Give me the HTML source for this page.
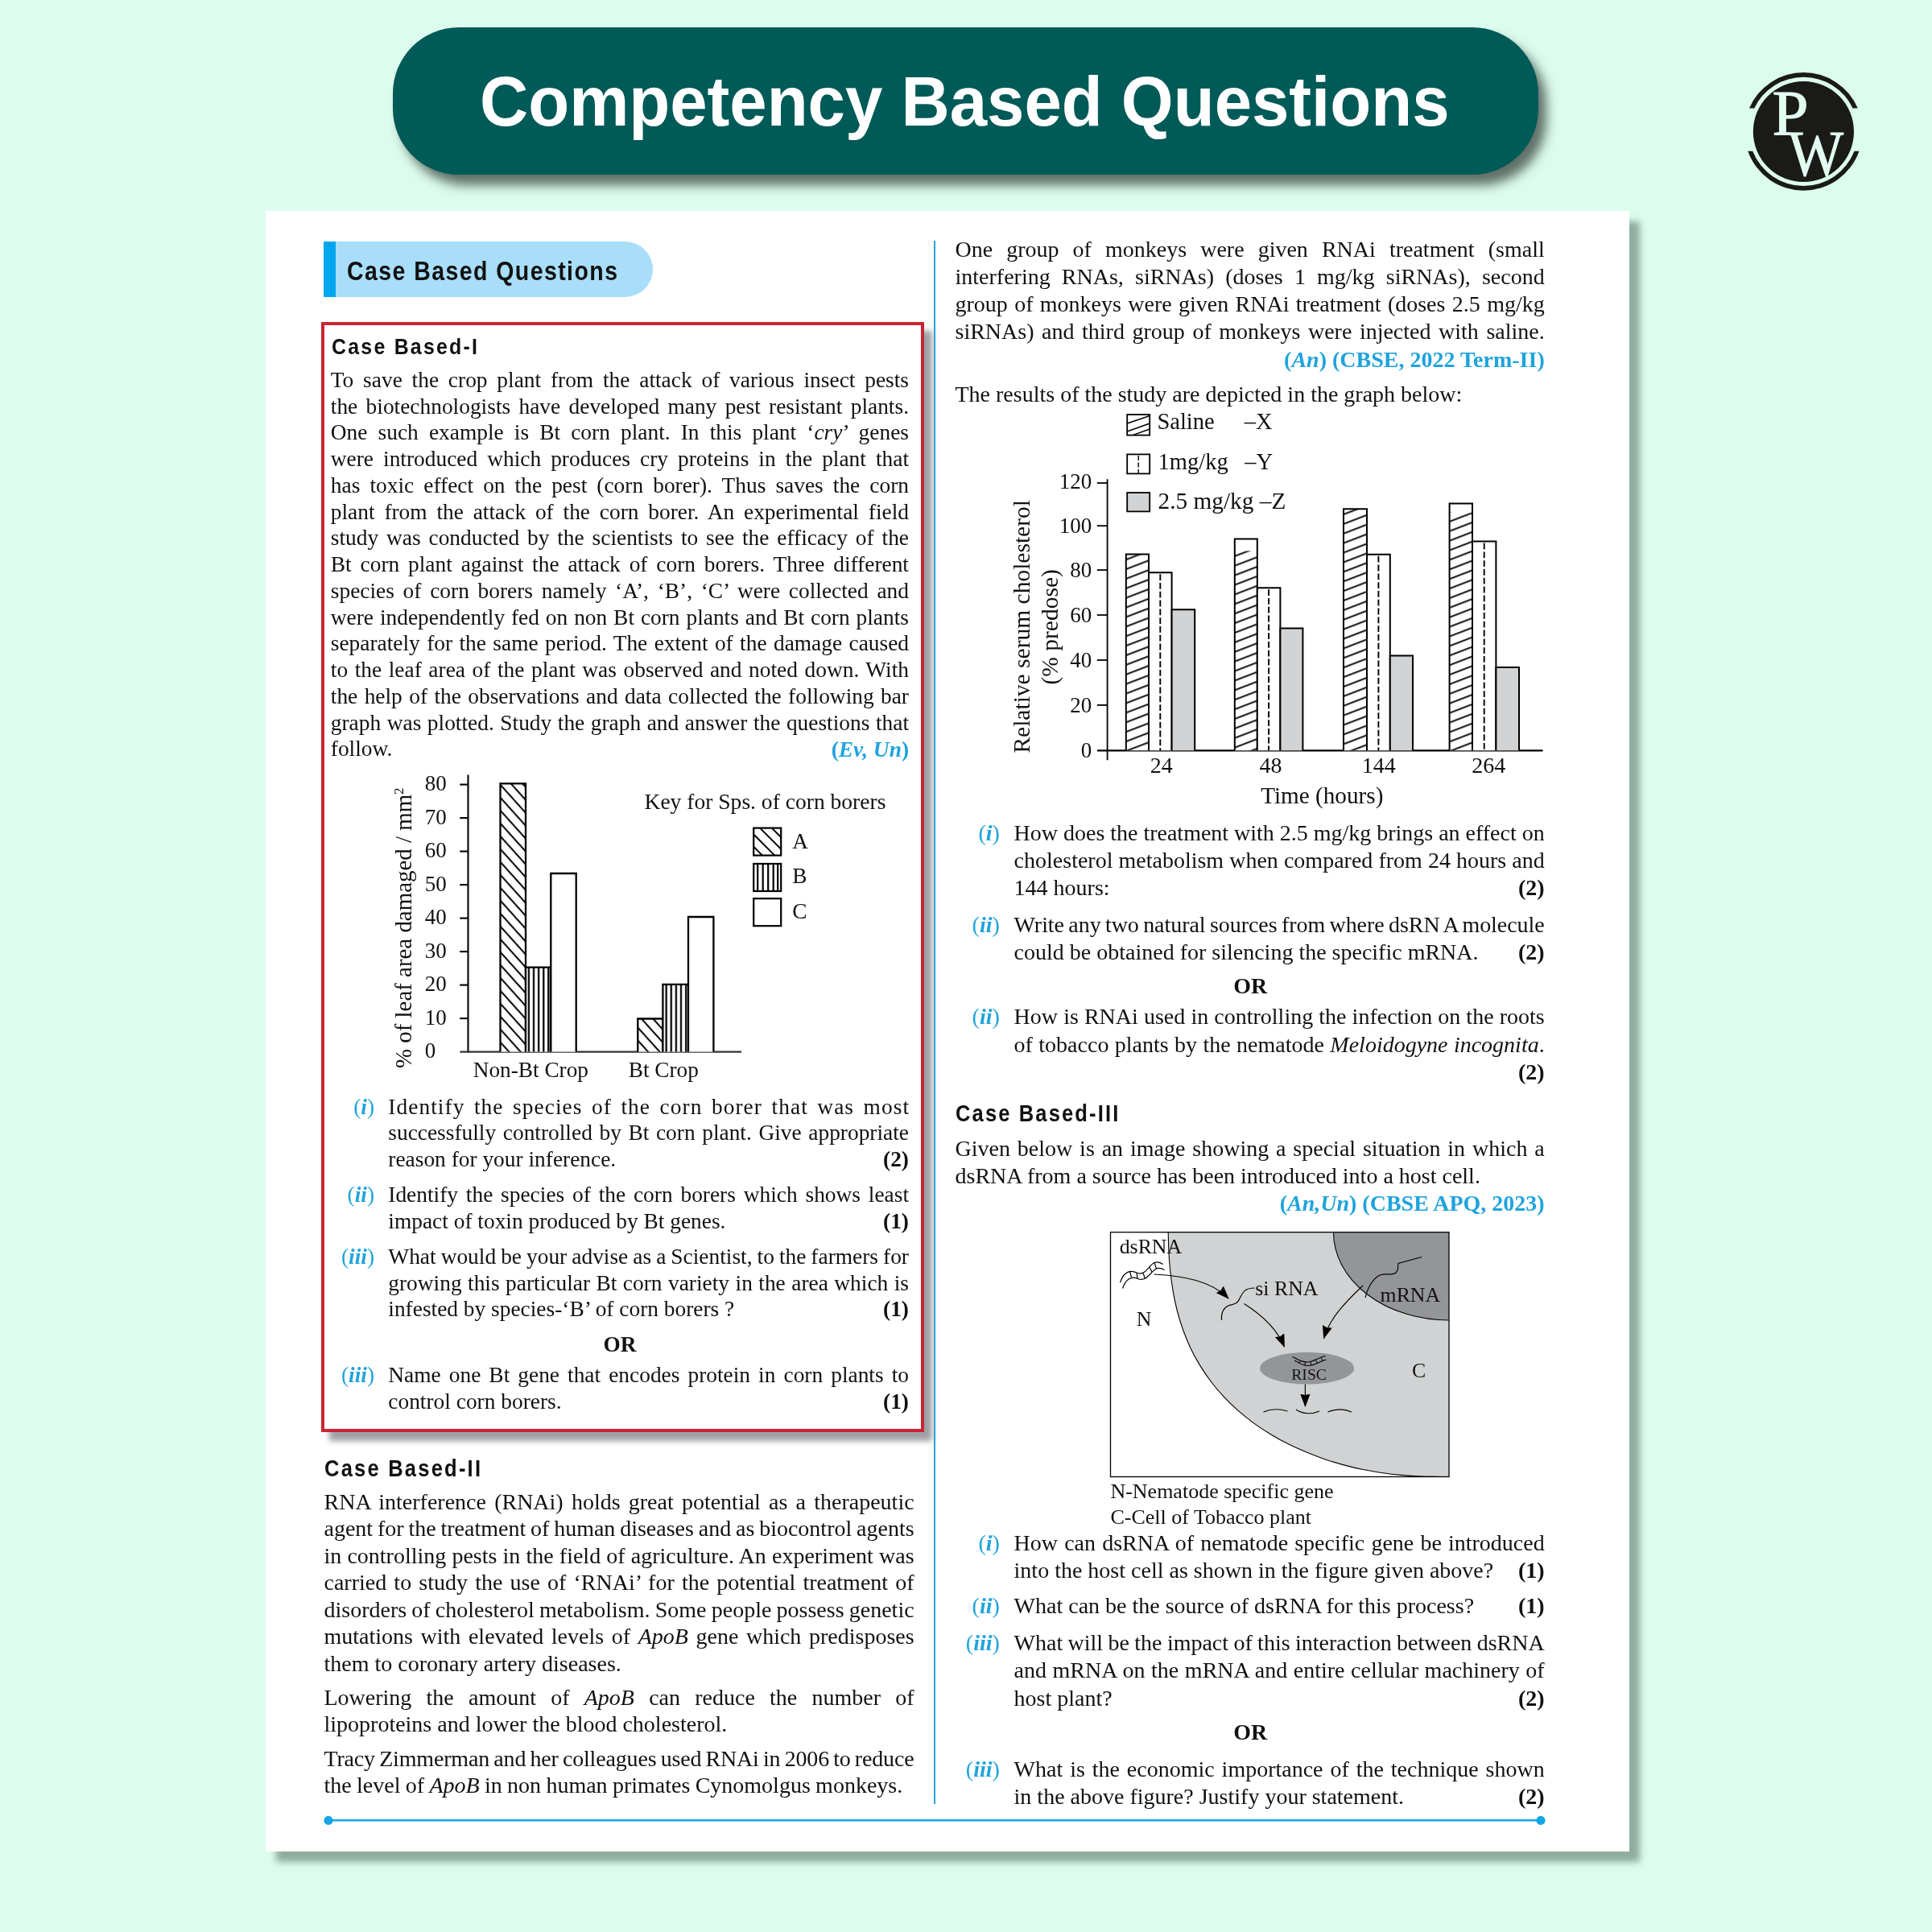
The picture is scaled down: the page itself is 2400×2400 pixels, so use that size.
<!DOCTYPE html>
<html><head><meta charset="utf-8"><title>Competency Based Questions</title>
<style>
html,body{margin:0;padding:0}
body{width:2400px;height:2400px;position:relative;overflow:hidden;background:#dcfcee;font-family:'Liberation Serif', serif;color:#111}
.t{position:absolute;white-space:nowrap;font-kerning:normal}
i{font-style:italic}
svg{position:absolute;left:0;top:0}
.bx{position:absolute}
</style></head><body>

<div class="bx" style="left:488px;top:34px;width:1423px;height:183px;border-radius:82px;background:#005a57;box-shadow:10px 13px 14px rgba(35,45,40,.68)"></div>
<div class="bx" style="left:330px;top:262px;width:1694px;height:2038px;background:#fff;box-shadow:13px 13px 8px rgba(95,125,110,.62)"></div>
<div class="bx" style="left:417px;top:299.8px;width:394px;height:69px;background:#a9defa;border-radius:0 34.5px 34.5px 0"></div>
<div class="bx" style="left:402.3px;top:299.8px;width:14.8px;height:69px;background:#00a7ee"></div>
<div class="bx" style="left:398.5px;top:399.5px;width:741.5px;height:1371px;border:4.2px solid #ca2533;background:#fff;box-shadow:10px 11px 7px rgba(105,107,114,.64)"></div>

<svg style="will-change:transform" width="2400" height="2400" viewBox="0 0 2400 2400"><defs>
<pattern id="hA" patternUnits="userSpaceOnUse" width="10.7" height="10.7" patternTransform="rotate(48) translate(0 3.5)"><line x1="-1" y1="5" x2="12" y2="5" stroke="#000" stroke-width="2"/></pattern>
<pattern id="hB" patternUnits="userSpaceOnUse" width="6.1" height="6.1" patternTransform="translate(1.2 0)"><line x1="3" y1="-1" x2="3" y2="8" stroke="#000" stroke-width="2.3"/></pattern>
<pattern id="hX" patternUnits="userSpaceOnUse" width="11.1" height="11.1" patternTransform="rotate(-21) translate(0 2)"><line x1="-1" y1="5" x2="13" y2="5" stroke="#000" stroke-width="1.9"/></pattern>
<marker id="ar" viewBox="0 0 16 12" refX="15" refY="6" markerWidth="16.5" markerHeight="12.4" markerUnits="userSpaceOnUse" orient="auto"><path d="M0,0 L16,6 L0,12 L1.5,6 z" fill="#000"/></marker>
<clipPath id="dg"><rect x="1379.5" y="1530.7" width="420.5" height="303.8"/></clipPath>
</defs>
<line x1="1161" y1="299" x2="1161" y2="2241" stroke="#27a3db" stroke-width="2"/>
<line x1="408" y1="2261.3" x2="1914" y2="2261.3" stroke="#14a6e6" stroke-width="2.4"/>
<circle cx="408" cy="2261.4" r="5.6" fill="#14a6e6"/><circle cx="1914" cy="2261.4" r="5.6" fill="#14a6e6"/>
<g>
<circle cx="2240.4" cy="163.5" r="62.6" fill="#1a1a18"/>
<path d="M 2173.0 134.5 A 73.3 73.3 0 0 1 2307.8 134.5 L 2301.6 134.5 A 67.7 67.7 0 0 0 2179.2 134.5 Z" fill="#1a1a18"/>
<path d="M 2171.3 187.8 A 73.3 73.3 0 0 0 2309.5 187.8 L 2303.5 187.8 A 67.7 67.7 0 0 1 2177.3 187.8 Z" fill="#1a1a18"/>
<text x="2201.5" y="167.7" font-size="81" fill="#e2fcf1" stroke="#e2fcf1" stroke-width="1" font-family="Liberation Serif">P</text>
<text transform="translate(2221.0 218.0) scale(0.915 1)" font-size="80" fill="#e2fcf1" stroke="#e2fcf1" stroke-width="0.9" font-family="Liberation Serif">W</text>
</g>
<g font-family="Liberation Serif" fill="#111"><line x1="581.5" y1="962.4" x2="581.5" y2="1307.6" stroke="#000" stroke-width="2.1"/>
<line x1="571.5" y1="1306.6" x2="921" y2="1306.6" stroke="#333" stroke-width="2.1"/>
<line x1="571.2" y1="1265.1" x2="581.5" y2="1265.1" stroke="#000" stroke-width="2.1"/>
<line x1="571.2" y1="1223.6" x2="581.5" y2="1223.6" stroke="#000" stroke-width="2.1"/>
<line x1="571.2" y1="1182.1" x2="581.5" y2="1182.1" stroke="#000" stroke-width="2.1"/>
<line x1="571.2" y1="1140.6" x2="581.5" y2="1140.6" stroke="#000" stroke-width="2.1"/>
<line x1="571.2" y1="1099.1" x2="581.5" y2="1099.1" stroke="#000" stroke-width="2.1"/>
<line x1="571.2" y1="1057.6" x2="581.5" y2="1057.6" stroke="#000" stroke-width="2.1"/>
<line x1="571.2" y1="1016.1" x2="581.5" y2="1016.1" stroke="#000" stroke-width="2.1"/>
<line x1="571.2" y1="974.6" x2="581.5" y2="974.6" stroke="#000" stroke-width="2.1"/>
<text x="527.8" y="1314.0" font-size="27" text-anchor="start" >0</text>
<text x="527.8" y="1272.5" font-size="27" text-anchor="start" >10</text>
<text x="527.8" y="1231.0" font-size="27" text-anchor="start" >20</text>
<text x="527.8" y="1189.5" font-size="27" text-anchor="start" >30</text>
<text x="527.8" y="1148.0" font-size="27" text-anchor="start" >40</text>
<text x="527.8" y="1106.5" font-size="27" text-anchor="start" >50</text>
<text x="527.8" y="1065.0" font-size="27" text-anchor="start" >60</text>
<text x="527.8" y="1023.5" font-size="27" text-anchor="start" >70</text>
<text x="527.8" y="982.0" font-size="27" text-anchor="start" >80</text>
<rect x="621.5" y="973.4" width="31.5" height="333.2" fill="#fff"/>
<rect x="621.5" y="973.4" width="31.5" height="333.2" fill="url(#hA)"/>
<path d="M621.5 1306.6 V973.4 H653.0 V1306.6" fill="none" stroke="#000" stroke-width="2.3"/>
<rect x="653.0" y="1201.7" width="31.3" height="104.9" fill="#fff"/>
<rect x="653.0" y="1201.7" width="31.3" height="104.9" fill="url(#hB)"/>
<path d="M653.0 1306.6 V1201.7 H684.3 V1306.6" fill="none" stroke="#000" stroke-width="2.3"/>
<rect x="684.3" y="1085.0" width="31.4" height="221.6" fill="#fff"/>
<path d="M684.3 1306.6 V1085.0 H715.7 V1306.6" fill="none" stroke="#000" stroke-width="2.3"/>
<rect x="792.3" y="1265.5" width="31.1" height="41.1" fill="#fff"/>
<rect x="792.3" y="1265.5" width="31.1" height="41.1" fill="url(#hA)"/>
<path d="M792.3 1306.6 V1265.5 H823.4 V1306.6" fill="none" stroke="#000" stroke-width="2.3"/>
<rect x="823.4" y="1222.8" width="31.6" height="83.8" fill="#fff"/>
<rect x="823.4" y="1222.8" width="31.6" height="83.8" fill="url(#hB)"/>
<path d="M823.4 1306.6 V1222.8 H855.0 V1306.6" fill="none" stroke="#000" stroke-width="2.3"/>
<rect x="855.0" y="1139.0" width="31.4" height="167.6" fill="#fff"/>
<path d="M855.0 1306.6 V1139.0 H886.4 V1306.6" fill="none" stroke="#000" stroke-width="2.3"/>
<text x="587.7" y="1337.7" font-size="27.3" text-anchor="start" >Non-Bt Crop</text>
<text x="780.7" y="1337.7" font-size="27.3" text-anchor="start" >Bt Crop</text>
<text x="800.5" y="1004.8" font-size="27.55" text-anchor="start" >Key for Sps. of corn borers</text>
<rect x="936.2" y="1028.6" width="34.0" height="34.0" fill="#fff"/>
<path d="M958.8000000000001 1028.6 L970.2 1040.0 M944.1 1028.6 L970.2 1054.6999999999998 M936.2 1036.5 L962.3000000000001 1062.6 M936.2 1051.8 L947.0 1062.6" stroke="#000" stroke-width="2" fill="none"/>
<rect x="936.2" y="1028.6" width="34.0" height="34.0" fill="none" stroke="#000" stroke-width="2.2"/>
<text x="984.2" y="1054.3" font-size="27.3" text-anchor="start" >A</text>
<rect x="936.2" y="1073.0" width="34.0" height="34.0" fill="#fff"/>
<line x1="941.2" y1="1073.0" x2="941.2" y2="1107.0" stroke="#000" stroke-width="2.2"/>
<line x1="947.7" y1="1073.0" x2="947.7" y2="1107.0" stroke="#000" stroke-width="2.2"/>
<line x1="954.2" y1="1073.0" x2="954.2" y2="1107.0" stroke="#000" stroke-width="2.2"/>
<line x1="960.7" y1="1073.0" x2="960.7" y2="1107.0" stroke="#000" stroke-width="2.2"/>
<line x1="966.2" y1="1073.0" x2="966.2" y2="1107.0" stroke="#000" stroke-width="2.2"/>
<rect x="936.2" y="1073.0" width="34.0" height="34.0" fill="none" stroke="#000" stroke-width="2.2"/>
<text x="984.2" y="1096.8" font-size="27.3" text-anchor="start" >B</text>
<rect x="936.2" y="1116.2" width="34.0" height="34.0" fill="#fff"/>
<rect x="936.2" y="1116.2" width="34.0" height="34.0" fill="none" stroke="#000" stroke-width="2.2"/>
<text x="984.2" y="1140.8" font-size="27.3" text-anchor="start" >C</text>
<text transform="translate(511.4 1327.0) rotate(-90)" font-size="28.9">% of leaf area damaged / mm<tspan font-size="17" dy="-10">2</tspan></text></g>
<g font-family="Liberation Serif" fill="#111"><line x1="1375.6" y1="595.2" x2="1375.6" y2="944.3" stroke="#000" stroke-width="1.8"/>
<line x1="1363" y1="932.3" x2="1916.5" y2="932.3" stroke="#000" stroke-width="2.2"/>
<text x="1356.3" y="941.4" font-size="27" text-anchor="end" >0</text>
<line x1="1362.8" y1="875.9" x2="1375.6" y2="875.9" stroke="#000" stroke-width="1.8"/>
<text x="1356.3" y="885.0" font-size="27" text-anchor="end" >20</text>
<line x1="1362.8" y1="820.0" x2="1375.6" y2="820.0" stroke="#000" stroke-width="1.8"/>
<text x="1356.3" y="829.1" font-size="27" text-anchor="end" >40</text>
<line x1="1362.8" y1="764.0" x2="1375.6" y2="764.0" stroke="#000" stroke-width="1.8"/>
<text x="1356.3" y="773.1" font-size="27" text-anchor="end" >60</text>
<line x1="1362.8" y1="708.1" x2="1375.6" y2="708.1" stroke="#000" stroke-width="1.8"/>
<text x="1356.3" y="717.2" font-size="27" text-anchor="end" >80</text>
<line x1="1362.8" y1="653.2" x2="1375.6" y2="653.2" stroke="#000" stroke-width="1.8"/>
<text x="1356.3" y="662.3" font-size="27" text-anchor="end" >100</text>
<line x1="1362.8" y1="600.0" x2="1375.6" y2="600.0" stroke="#000" stroke-width="1.8"/>
<text x="1356.3" y="606.6" font-size="27" text-anchor="end" >120</text>
<rect x="1398.8" y="688.6" width="28.2" height="243.7" fill="#fff"/><rect x="1398.8" y="688.6" width="28.2" height="243.7" fill="url(#hX)"/>
<path d="M1398.8 932.3 V688.6 H1427.0 V932.3" fill="none" stroke="#000" stroke-width="2"/>
<rect x="1427.0" y="711.2" width="28.6" height="221.1" fill="#fff"/>
<line x1="1441.3" y1="713.2" x2="1441.3" y2="932.3" stroke="#000" stroke-width="1.9" stroke-dasharray="7.8 3"/>
<path d="M1427.0 932.3 V711.2 H1455.6 V932.3" fill="none" stroke="#000" stroke-width="2"/>
<rect x="1455.6" y="757.2" width="28.6" height="175.1" fill="#d1d3d4"/>
<path d="M1455.6 932.3 V757.2 H1484.2 V932.3" fill="none" stroke="#000" stroke-width="2"/>
<rect x="1533.8" y="669.4" width="28.0" height="262.9" fill="#fff"/><rect x="1533.8" y="684.4" width="28.0" height="247.9" fill="url(#hX)"/>
<path d="M1533.8 932.3 V669.4 H1561.8 V932.3" fill="none" stroke="#000" stroke-width="2"/>
<rect x="1561.8" y="730.2" width="28.6" height="202.1" fill="#fff"/>
<line x1="1576.1" y1="732.2" x2="1576.1" y2="932.3" stroke="#000" stroke-width="1.9" stroke-dasharray="7.8 3"/>
<path d="M1561.8 932.3 V730.2 H1590.4 V932.3" fill="none" stroke="#000" stroke-width="2"/>
<rect x="1590.4" y="780.4" width="28.0" height="151.9" fill="#d1d3d4"/>
<path d="M1590.4 932.3 V780.4 H1618.4 V932.3" fill="none" stroke="#000" stroke-width="2"/>
<rect x="1669.0" y="632.2" width="29.0" height="300.1" fill="#fff"/><rect x="1669.0" y="632.2" width="29.0" height="300.1" fill="url(#hX)"/>
<path d="M1669.0 932.3 V632.2 H1698.0 V932.3" fill="none" stroke="#000" stroke-width="2"/>
<rect x="1698.0" y="688.8" width="28.8" height="243.5" fill="#fff"/>
<line x1="1712.4" y1="690.8" x2="1712.4" y2="932.3" stroke="#000" stroke-width="1.9" stroke-dasharray="7.8 3"/>
<path d="M1698.0 932.3 V688.8 H1726.8 V932.3" fill="none" stroke="#000" stroke-width="2"/>
<rect x="1726.8" y="814.4" width="28.2" height="117.9" fill="#d1d3d4"/>
<path d="M1726.8 932.3 V814.4 H1755.0 V932.3" fill="none" stroke="#000" stroke-width="2"/>
<rect x="1800.6" y="625.6" width="28.4" height="306.7" fill="#fff"/><rect x="1800.6" y="636.6" width="28.4" height="295.7" fill="url(#hX)"/>
<path d="M1800.6 932.3 V625.6 H1829.0 V932.3" fill="none" stroke="#000" stroke-width="2"/>
<rect x="1829.0" y="672.6" width="29.4" height="259.7" fill="#fff"/>
<line x1="1843.7" y1="674.6" x2="1843.7" y2="932.3" stroke="#000" stroke-width="1.9" stroke-dasharray="7.8 3"/>
<path d="M1829.0 932.3 V672.6 H1858.4 V932.3" fill="none" stroke="#000" stroke-width="2"/>
<rect x="1858.4" y="829.0" width="28.6" height="103.3" fill="#d1d3d4"/>
<path d="M1858.4 932.3 V829.0 H1887.0 V932.3" fill="none" stroke="#000" stroke-width="2"/>
<text x="1442.7" y="960.4" font-size="28" text-anchor="middle" >24</text>
<text x="1578.4" y="960.4" font-size="28" text-anchor="middle" >48</text>
<text x="1712.8" y="960.4" font-size="28" text-anchor="middle" >144</text>
<text x="1849.2" y="960.4" font-size="28" text-anchor="middle" >264</text>
<text x="1566.2" y="998.1" font-size="29.2" text-anchor="start" >Time (hours)</text>
<rect x="1400.2" y="515" width="28" height="25.6" fill="#fff"/><path d="M1400.2 526 L1428.2 516.5 M1400.2 536 L1428.2 526 M1407 540.6 L1428.2 533" stroke="#000" stroke-width="1.5" fill="none"/><rect x="1400.2" y="515" width="28" height="25.6" fill="none" stroke="#000" stroke-width="1.8"/>
<rect x="1400.2" y="564.4" width="28" height="24" fill="#fff" stroke="#000" stroke-width="1.8"/><line x1="1414.2" y1="566" x2="1414.2" y2="588" stroke="#000" stroke-width="1.4" stroke-dasharray="6 2.5"/>
<rect x="1400.2" y="612" width="28" height="23.4" fill="#d1d3d4" stroke="#000" stroke-width="1.8"/>
<text x="1437.4" y="533.3" font-size="28.5" text-anchor="start" >Saline</text>
<text x="1545.8" y="533.3" font-size="28.5" text-anchor="start" >–X</text>
<text x="1438.6" y="582.8" font-size="28.5" text-anchor="start" >1mg/kg</text>
<text x="1546.2" y="582.8" font-size="28.5" text-anchor="start" >–Y</text>
<text x="1438.6" y="631.5" font-size="29.3" text-anchor="start" >2.5 mg/kg –Z</text>
<text transform="translate(1279.3 935.6) rotate(-90)" font-size="29.5">Relative serum cholesterol</text>
<text transform="translate(1314.3 850.5) rotate(-90)" font-size="29.5">(% predose)</text></g>
<g font-family="Liberation Serif" fill="#111"><rect x="1379.5" y="1530.7" width="420.5" height="303.79999999999995" fill="#fff"/>
<g clip-path="url(#dg)"><path d="M1451.2 1530.7 C1451.4 1538.8 1451.5 1546.9 1451.9 1555.0 C1452.3 1563.1 1452.9 1571.3 1453.8 1579.5 C1454.7 1587.7 1455.8 1596.0 1457.2 1604.2 C1458.6 1612.4 1460.3 1620.5 1462.4 1628.5 C1464.5 1636.5 1466.9 1644.5 1469.7 1652.2 C1472.5 1659.9 1475.6 1667.5 1479.1 1674.9 C1482.6 1682.3 1486.6 1689.5 1490.8 1696.4 C1495.0 1703.3 1499.6 1710.0 1504.5 1716.5 C1509.4 1723.0 1514.7 1729.2 1520.3 1735.2 C1525.9 1741.2 1531.8 1746.8 1537.9 1752.2 C1544.0 1757.6 1550.5 1762.8 1557.1 1767.6 C1563.7 1772.4 1570.6 1776.9 1577.6 1781.2 C1584.6 1785.5 1591.9 1789.6 1599.3 1793.3 C1606.7 1797.0 1614.2 1800.4 1621.8 1803.6 C1629.4 1806.8 1637.1 1809.7 1644.9 1812.4 C1652.7 1815.1 1660.5 1817.4 1668.4 1819.6 C1676.3 1821.8 1684.3 1823.6 1692.3 1825.3 C1700.3 1827.0 1708.2 1828.3 1716.3 1829.5 C1724.3 1830.7 1732.4 1831.7 1740.6 1832.4 C1748.8 1833.2 1756.9 1833.7 1765.2 1834.0 C1773.5 1834.3 1781.9 1834.3 1790.2 1834.5 L1805.0 1839.5 L1805.0 1525.7 L1451.2 1525.7 Z" fill="#d0d2d3" stroke="#000" stroke-width="1.1"/><ellipse cx="1800.0" cy="1530.7" rx="143.5" ry="109.3" fill="#939598" stroke="#000" stroke-width="1.1"/></g>
<rect x="1379.5" y="1530.7" width="420.5" height="303.79999999999995" fill="none" stroke="#000" stroke-width="1.3"/>
<ellipse cx="1623.6" cy="1699.7" rx="58.5" ry="19.9" fill="#939598"/>
<g fill="none" stroke="#000" stroke-width="1.2"><path d="M1391.5 1593 C1396 1580 1404 1577 1412 1581 C1422 1586 1427 1572 1434 1568.5 C1438 1567 1441.5 1568 1444.5 1570.5"/><path d="M1394.5 1600.5 C1399 1588 1406 1585 1413.5 1588.5 C1424 1593 1429.5 1579.5 1436.5 1576 C1440 1574.8 1443 1575.5 1446.5 1577.5"/><path d="M1403.5 1579.5 L1405.5 1586.5 M1412 1581 L1413 1588.5 M1420 1581.5 L1422.5 1588.5 M1427.5 1573.5 L1431 1580 M1434 1568.5 L1436.5 1576"/></g>
<g fill="none" stroke="#000" stroke-width="1.15"><path d="M1433.5 1583 C1470 1585 1505 1591 1526 1613" marker-end="url(#ar)"/><path d="M1545.5 1619.6 C1565 1632 1586 1650 1595.5 1673" marker-end="url(#ar)"/><path d="M1693 1597 C1672 1617 1652 1637 1644.5 1662.5" marker-end="url(#ar)"/><path d="M1621.4 1719.5 L1621.4 1747" marker-end="url(#ar)"/><path d="M1558.5 1600 C1545 1600 1543 1607 1540 1613 C1537 1621 1531 1620 1526 1622 C1519 1625 1517 1632 1517.5 1640"/><path d="M1766 1561.5 L1737 1569.5 C1736 1574 1738 1577 1734 1581 C1729 1585 1722 1581 1714 1584 C1705 1589 1699 1600 1696 1612"/><path d="M1569.5 1754 C1579 1750 1590 1750 1599.5 1753"/><path d="M1610 1751 C1619 1757 1630 1757 1639 1753"/><path d="M1649.5 1754 C1659 1750 1670 1750 1679 1754"/><path d="M1605.5 1685.5 C1612 1688 1616 1692 1624 1692 C1632 1692 1638 1686 1646.5 1684.5" stroke-width="1.1"/><path d="M1608 1690 C1613 1692 1617 1696.5 1625 1696.5 C1633 1696.5 1639 1691 1647.5 1689" stroke-width="1.1"/><path d="M1615.5 1690.5 L1613.5 1694 M1621.5 1692 L1621 1696.3 M1628 1691.8 L1629 1696.2 M1634.5 1689.5 L1636.5 1693.5 M1641 1686.5 L1643 1690.5" stroke-width="1"/></g>
<text x="1390.7" y="1557.4" font-size="25.8" text-anchor="start" >dsRNA</text>
<text x="1411.8" y="1647.2" font-size="25.8" text-anchor="start" >N</text>
<text x="1559.3" y="1608.7" font-size="25.8" text-anchor="start" >si RNA</text>
<text x="1714.6" y="1616.5" font-size="25.8" text-anchor="start" >mRNA</text>
<text x="1754.0" y="1710.6" font-size="25.8" text-anchor="start" >C</text>
<text x="1604.3" y="1713.7" font-size="19.6" text-anchor="start" >RISC</text></g></svg>
<div style="position:absolute;left:0;top:0;width:2400px;height:2400px;will-change:transform">
<div class="t" style="font-family:'Liberation Serif', serif;font-size:27.4px;top:459px;line-height:27.4px;word-spacing:4.961px;left:410.80px;">To save the crop plant from the attack of various insect pests</div>
<div class="t" style="font-family:'Liberation Serif', serif;font-size:27.4px;top:492px;line-height:27.4px;word-spacing:3.493px;left:410.80px;">the biotechnologists have developed many pest resistant plants.</div>
<div class="t" style="font-family:'Liberation Serif', serif;font-size:27.4px;top:524px;line-height:27.4px;word-spacing:6.281px;left:410.80px;">One such example is Bt corn plant. In this plant ‘<i>cry</i>’ genes</div>
<div class="t" style="font-family:'Liberation Serif', serif;font-size:27.4px;top:557px;line-height:27.4px;word-spacing:5.175px;left:410.80px;">were introduced which produces cry proteins in the plant that</div>
<div class="t" style="font-family:'Liberation Serif', serif;font-size:27.4px;top:590px;line-height:27.4px;word-spacing:5.226px;left:410.80px;">has toxic effect on the pest (corn borer). Thus saves the corn</div>
<div class="t" style="font-family:'Liberation Serif', serif;font-size:27.4px;top:623px;line-height:27.4px;word-spacing:4.965px;left:410.80px;">plant from the attack of the corn borer. An experimental field</div>
<div class="t" style="font-family:'Liberation Serif', serif;font-size:27.4px;top:655px;line-height:27.4px;word-spacing:3.034px;left:410.80px;">study was conducted by the scientists to see the efficacy of the</div>
<div class="t" style="font-family:'Liberation Serif', serif;font-size:27.4px;top:688px;line-height:27.4px;word-spacing:4.001px;left:410.80px;">Bt corn plant against the attack of corn borers. Three different</div>
<div class="t" style="font-family:'Liberation Serif', serif;font-size:27.4px;top:721px;line-height:27.4px;word-spacing:3.878px;left:410.80px;">species of corn borers namely ‘A’, ‘B’, ‘C’ were collected and</div>
<div class="t" style="font-family:'Liberation Serif', serif;font-size:27.4px;top:754px;line-height:27.4px;word-spacing:1.048px;left:410.80px;">were independently fed on non Bt corn plants and Bt corn plants</div>
<div class="t" style="font-family:'Liberation Serif', serif;font-size:27.4px;top:786px;line-height:27.4px;word-spacing:1.522px;left:410.80px;">separately for the same period. The extent of the damage caused</div>
<div class="t" style="font-family:'Liberation Serif', serif;font-size:27.4px;top:819px;line-height:27.4px;word-spacing:1.734px;left:410.80px;">to the leaf area of the plant was observed and noted down. With</div>
<div class="t" style="font-family:'Liberation Serif', serif;font-size:27.4px;top:852px;line-height:27.4px;word-spacing:1.540px;left:410.80px;">the help of the observations and data collected the following bar</div>
<div class="t" style="font-family:'Liberation Serif', serif;font-size:27.4px;top:885px;line-height:27.4px;word-spacing:0.695px;left:410.80px;">graph was plotted. Study the graph and answer the questions that</div>
<div class="t" style="font-family:'Liberation Serif', serif;font-size:27.4px;top:917px;line-height:27.4px;left:410.80px;">follow.</div>
<div class="t" style="font-family:'Liberation Serif', serif;font-size:27.4px;font-weight:bold;top:918px;line-height:27.4px;color:#1fa3dc;right:1271.00px;">(<i>Ev, Un</i>)</div>
<div class="t" style="font-family:'Liberation Serif', serif;font-size:27.4px;top:1362px;line-height:27.4px;color:#1fa3dc;right:1935.00px;">(<b><i>i</i></b>)</div>
<div class="t" style="font-family:'Liberation Serif', serif;font-size:27.4px;top:1362px;line-height:27.4px;letter-spacing:1.050px;word-spacing:3.619px;left:482.30px;">Identify the species of the corn borer that was most</div>
<div class="t" style="font-family:'Liberation Serif', serif;font-size:27.4px;top:1394px;line-height:27.4px;word-spacing:1.761px;left:482.30px;">successfully controlled by Bt corn plant. Give appropriate</div>
<div class="t" style="font-family:'Liberation Serif', serif;font-size:27.4px;top:1427px;line-height:27.4px;left:482.30px;">reason for your inference.</div>
<div class="t" style="font-family:'Liberation Serif', serif;font-size:27.4px;font-weight:bold;top:1427px;line-height:27.4px;right:1271.00px;">(2)</div>
<div class="t" style="font-family:'Liberation Serif', serif;font-size:27.4px;top:1471px;line-height:27.4px;color:#1fa3dc;right:1935.00px;">(<b><i>ii</i></b>)</div>
<div class="t" style="font-family:'Liberation Serif', serif;font-size:27.4px;top:1471px;line-height:27.4px;word-spacing:2.975px;left:482.30px;">Identify the species of the corn borers which shows least</div>
<div class="t" style="font-family:'Liberation Serif', serif;font-size:27.4px;top:1504px;line-height:27.4px;left:482.30px;">impact of toxin produced by Bt genes.</div>
<div class="t" style="font-family:'Liberation Serif', serif;font-size:27.4px;font-weight:bold;top:1504px;line-height:27.4px;right:1271.00px;">(1)</div>
<div class="t" style="font-family:'Liberation Serif', serif;font-size:27.4px;top:1548px;line-height:27.4px;color:#1fa3dc;right:1935.00px;">(<b><i>iii</i></b>)</div>
<div class="t" style="font-family:'Liberation Serif', serif;font-size:27.4px;top:1548px;line-height:27.4px;word-spacing:-0.816px;left:482.30px;">What would be your advise as a Scientist, to the farmers for</div>
<div class="t" style="font-family:'Liberation Serif', serif;font-size:27.4px;top:1581px;line-height:27.4px;word-spacing:0.625px;left:482.30px;">growing this particular Bt corn variety in the area which is</div>
<div class="t" style="font-family:'Liberation Serif', serif;font-size:27.4px;top:1613px;line-height:27.4px;left:482.30px;">infested by species-‘B’ of corn borers ?</div>
<div class="t" style="font-family:'Liberation Serif', serif;font-size:27.4px;font-weight:bold;top:1613px;line-height:27.4px;right:1271.00px;">(1)</div>
<div class="t" style="font-family:'Liberation Serif', serif;font-size:27.4px;font-weight:bold;top:1657px;line-height:27.4px;left:749.45px;">OR</div>
<div class="t" style="font-family:'Liberation Serif', serif;font-size:27.4px;top:1695px;line-height:27.4px;color:#1fa3dc;right:1935.00px;">(<b><i>iii</i></b>)</div>
<div class="t" style="font-family:'Liberation Serif', serif;font-size:27.4px;top:1695px;line-height:27.4px;word-spacing:3.211px;left:482.30px;">Name one Bt gene that encodes protein in corn plants to</div>
<div class="t" style="font-family:'Liberation Serif', serif;font-size:27.4px;top:1728px;line-height:27.4px;left:482.30px;">control corn borers.</div>
<div class="t" style="font-family:'Liberation Serif', serif;font-size:27.4px;font-weight:bold;top:1728px;line-height:27.4px;right:1271.00px;">(1)</div>
<div class="t" style="font-family:'Liberation Serif', serif;font-size:28px;top:1852px;line-height:28px;word-spacing:3.196px;left:402.50px;">RNA interference (RNAi) holds great potential as a therapeutic</div>
<div class="t" style="font-family:'Liberation Serif', serif;font-size:28px;top:1885px;line-height:28px;word-spacing:-1.178px;left:402.50px;">agent for the treatment of human diseases and as biocontrol agents</div>
<div class="t" style="font-family:'Liberation Serif', serif;font-size:28px;top:1919px;line-height:28px;word-spacing:0.138px;left:402.50px;">in controlling pests in the field of agriculture. An experiment was</div>
<div class="t" style="font-family:'Liberation Serif', serif;font-size:28px;top:1952px;line-height:28px;word-spacing:2.157px;left:402.50px;">carried to study the use of ‘RNAi’ for the potential treatment of</div>
<div class="t" style="font-family:'Liberation Serif', serif;font-size:28px;top:1986px;line-height:28px;word-spacing:-0.805px;left:402.50px;">disorders of cholesterol metabolism. Some people possess genetic</div>
<div class="t" style="font-family:'Liberation Serif', serif;font-size:28px;top:2019px;line-height:28px;word-spacing:2.602px;left:402.50px;">mutations with elevated levels of <i>ApoB</i> gene which predisposes</div>
<div class="t" style="font-family:'Liberation Serif', serif;font-size:28px;top:2053px;line-height:28px;left:402.50px;">them to coronary artery diseases.</div>
<div class="t" style="font-family:'Liberation Serif', serif;font-size:28px;top:2095px;line-height:28px;word-spacing:11.219px;left:402.50px;">Lowering the amount of <i>ApoB</i> can reduce the number of</div>
<div class="t" style="font-family:'Liberation Serif', serif;font-size:28px;top:2128px;line-height:28px;left:402.50px;">lipoproteins and lower the blood cholesterol.</div>
<div class="t" style="font-family:'Liberation Serif', serif;font-size:28px;top:2171px;line-height:28px;letter-spacing:-0.169px;word-spacing:-1.600px;left:402.50px;">Tracy Zimmerman and her colleagues used RNAi in 2006 to reduce</div>
<div class="t" style="font-family:'Liberation Serif', serif;font-size:28px;top:2204px;line-height:28px;word-spacing:-0.679px;left:402.50px;">the level of <i>ApoB</i> in non human primates Cynomolgus monkeys.</div>
<div class="t" style="font-family:'Liberation Serif', serif;font-size:28px;top:296px;line-height:28px;word-spacing:10.072px;left:1186.50px;">One group of monkeys were given RNAi treatment (small</div>
<div class="t" style="font-family:'Liberation Serif', serif;font-size:28px;top:330px;line-height:28px;word-spacing:7.163px;left:1186.50px;">interfering RNAs, siRNAs) (doses 1 mg/kg siRNAs), second</div>
<div class="t" style="font-family:'Liberation Serif', serif;font-size:28px;top:364px;line-height:28px;word-spacing:1.345px;left:1186.50px;">group of monkeys were given RNAi treatment (doses 2.5 mg/kg</div>
<div class="t" style="font-family:'Liberation Serif', serif;font-size:28px;top:398px;line-height:28px;word-spacing:2.557px;left:1186.50px;">siRNAs) and third group of monkeys were injected with saline.</div>
<div class="t" style="font-family:'Liberation Serif', serif;font-size:28px;font-weight:bold;top:433px;line-height:28px;color:#1fa3dc;right:481.30px;">(<i>An</i>) (CBSE, 2022 Term-II)</div>
<div class="t" style="font-family:'Liberation Serif', serif;font-size:28px;top:476px;line-height:28px;left:1186.50px;">The results of the study are depicted in the graph below:</div>
<div class="t" style="font-family:'Liberation Serif', serif;font-size:28px;top:1021px;line-height:28px;color:#1fa3dc;right:1158.20px;">(<b><i>i</i></b>)</div>
<div class="t" style="font-family:'Liberation Serif', serif;font-size:28px;top:1021px;line-height:28px;word-spacing:-0.057px;left:1259.60px;">How does the treatment with 2.5 mg/kg brings an effect on</div>
<div class="t" style="font-family:'Liberation Serif', serif;font-size:28px;top:1055px;line-height:28px;word-spacing:0.070px;left:1259.60px;">cholesterol metabolism when compared from 24 hours and</div>
<div class="t" style="font-family:'Liberation Serif', serif;font-size:28px;top:1089px;line-height:28px;left:1259.60px;">144 hours:</div>
<div class="t" style="font-family:'Liberation Serif', serif;font-size:28px;font-weight:bold;top:1089px;line-height:28px;right:481.30px;">(2)</div>
<div class="t" style="font-family:'Liberation Serif', serif;font-size:28px;top:1135px;line-height:28px;color:#1fa3dc;right:1158.20px;">(<b><i>ii</i></b>)</div>
<div class="t" style="font-family:'Liberation Serif', serif;font-size:28px;top:1135px;line-height:28px;letter-spacing:-0.048px;word-spacing:-1.600px;left:1259.60px;">Write any two natural sources from where dsRN A molecule</div>
<div class="t" style="font-family:'Liberation Serif', serif;font-size:28px;top:1169px;line-height:28px;left:1259.60px;">could be obtained for silencing the specific mRNA.</div>
<div class="t" style="font-family:'Liberation Serif', serif;font-size:28px;font-weight:bold;top:1169px;line-height:28px;right:481.30px;">(2)</div>
<div class="t" style="font-family:'Liberation Serif', serif;font-size:28px;font-weight:bold;top:1211px;line-height:28px;left:1532.20px;">OR</div>
<div class="t" style="font-family:'Liberation Serif', serif;font-size:28px;top:1249px;line-height:28px;color:#1fa3dc;right:1158.20px;">(<b><i>ii</i></b>)</div>
<div class="t" style="font-family:'Liberation Serif', serif;font-size:28px;top:1249px;line-height:28px;word-spacing:0.118px;left:1259.60px;">How is RNAi used in controlling the infection on the roots</div>
<div class="t" style="font-family:'Liberation Serif', serif;font-size:28px;top:1284px;line-height:28px;word-spacing:0.405px;left:1259.60px;">of tobacco plants by the nematode <i>Meloidogyne incognita</i>.</div>
<div class="t" style="font-family:'Liberation Serif', serif;font-size:28px;font-weight:bold;top:1318px;line-height:28px;right:481.30px;">(2)</div>
<div class="t" style="font-family:'Liberation Serif', serif;font-size:28px;top:1413px;line-height:28px;word-spacing:1.880px;left:1186.50px;">Given below is an image showing a special situation in which a</div>
<div class="t" style="font-family:'Liberation Serif', serif;font-size:28px;top:1447px;line-height:28px;left:1186.50px;">dsRNA from a source has been introduced into a host cell.</div>
<div class="t" style="font-family:'Liberation Serif', serif;font-size:28px;font-weight:bold;top:1481px;line-height:28px;color:#1fa3dc;right:481.30px;">(<i>An,Un</i>) (CBSE APQ, 2023)</div>
<div class="t" style="font-family:'Liberation Serif', serif;font-size:26px;top:1840px;line-height:26px;left:1379.40px;">N-Nematode specific gene</div>
<div class="t" style="font-family:'Liberation Serif', serif;font-size:26px;top:1872px;line-height:26px;left:1379.40px;">C-Cell of Tobacco plant</div>
<div class="t" style="font-family:'Liberation Serif', serif;font-size:28px;top:1903px;line-height:28px;color:#1fa3dc;right:1158.20px;">(<b><i>i</i></b>)</div>
<div class="t" style="font-family:'Liberation Serif', serif;font-size:28px;top:1903px;line-height:28px;word-spacing:1.136px;left:1259.60px;">How can dsRNA of nematode specific gene be introduced</div>
<div class="t" style="font-family:'Liberation Serif', serif;font-size:28px;top:1937px;line-height:28px;left:1259.60px;">into the host cell as shown in the figure given above?</div>
<div class="t" style="font-family:'Liberation Serif', serif;font-size:28px;font-weight:bold;top:1937px;line-height:28px;right:481.30px;">(1)</div>
<div class="t" style="font-family:'Liberation Serif', serif;font-size:28px;top:1981px;line-height:28px;color:#1fa3dc;right:1158.20px;">(<b><i>ii</i></b>)</div>
<div class="t" style="font-family:'Liberation Serif', serif;font-size:28px;top:1981px;line-height:28px;left:1259.60px;">What can be the source of dsRNA for this process?</div>
<div class="t" style="font-family:'Liberation Serif', serif;font-size:28px;font-weight:bold;top:1981px;line-height:28px;right:481.30px;">(1)</div>
<div class="t" style="font-family:'Liberation Serif', serif;font-size:28px;top:2027px;line-height:28px;color:#1fa3dc;right:1158.20px;">(<b><i>iii</i></b>)</div>
<div class="t" style="font-family:'Liberation Serif', serif;font-size:28px;top:2027px;line-height:28px;word-spacing:-0.636px;left:1259.60px;">What will be the impact of this interaction between dsRNA</div>
<div class="t" style="font-family:'Liberation Serif', serif;font-size:28px;top:2061px;line-height:28px;word-spacing:0.572px;left:1259.60px;">and mRNA on the mRNA and entire cellular machinery of</div>
<div class="t" style="font-family:'Liberation Serif', serif;font-size:28px;top:2096px;line-height:28px;left:1259.60px;">host plant?</div>
<div class="t" style="font-family:'Liberation Serif', serif;font-size:28px;font-weight:bold;top:2096px;line-height:28px;right:481.30px;">(2)</div>
<div class="t" style="font-family:'Liberation Serif', serif;font-size:28px;font-weight:bold;top:2138px;line-height:28px;left:1532.20px;">OR</div>
<div class="t" style="font-family:'Liberation Serif', serif;font-size:28px;top:2184px;line-height:28px;color:#1fa3dc;right:1158.20px;">(<b><i>iii</i></b>)</div>
<div class="t" style="font-family:'Liberation Serif', serif;font-size:28px;top:2184px;line-height:28px;word-spacing:1.913px;left:1259.60px;">What is the economic importance of the technique shown</div>
<div class="t" style="font-family:'Liberation Serif', serif;font-size:28px;top:2218px;line-height:28px;left:1259.60px;">in the above figure? Justify your statement.</div>
<div class="t" style="font-family:'Liberation Serif', serif;font-size:28px;font-weight:bold;top:2218px;line-height:28px;right:481.30px;">(2)</div>
<div class="t" style="font-family:'Liberation Sans', sans-serif;font-size:32.4px;font-weight:bold;top:321px;line-height:32.4px;transform:scaleX(0.88);transform-origin:0 0;letter-spacing:1.620px;left:431.00px;">Case Based Questions</div>
<div class="t" style="font-family:'Liberation Sans', sans-serif;font-size:28.3px;font-weight:bold;top:416px;line-height:28.3px;transform:scaleX(0.88);transform-origin:0 0;letter-spacing:2.541px;left:411.60px;">Case Based-I</div>
<div class="t" style="font-family:'Liberation Sans', sans-serif;font-size:29px;font-weight:bold;top:1810px;line-height:29px;transform:scaleX(0.88);transform-origin:0 0;letter-spacing:2.521px;left:403.00px;">Case Based-II</div>
<div class="t" style="font-family:'Liberation Sans', sans-serif;font-size:29px;font-weight:bold;top:1369px;line-height:29px;transform:scaleX(0.88);transform-origin:0 0;letter-spacing:2.432px;left:1186.60px;">Case Based-III</div>
<div class="t" style="font-family:'Liberation Sans', sans-serif;font-size:86.5px;font-weight:bold;top:83px;line-height:86.5px;color:#fff;transform:scaleX(0.96377);transform-origin:0 0;left:596.20px;">Competency Based Questions</div>
</div>
</body></html>
